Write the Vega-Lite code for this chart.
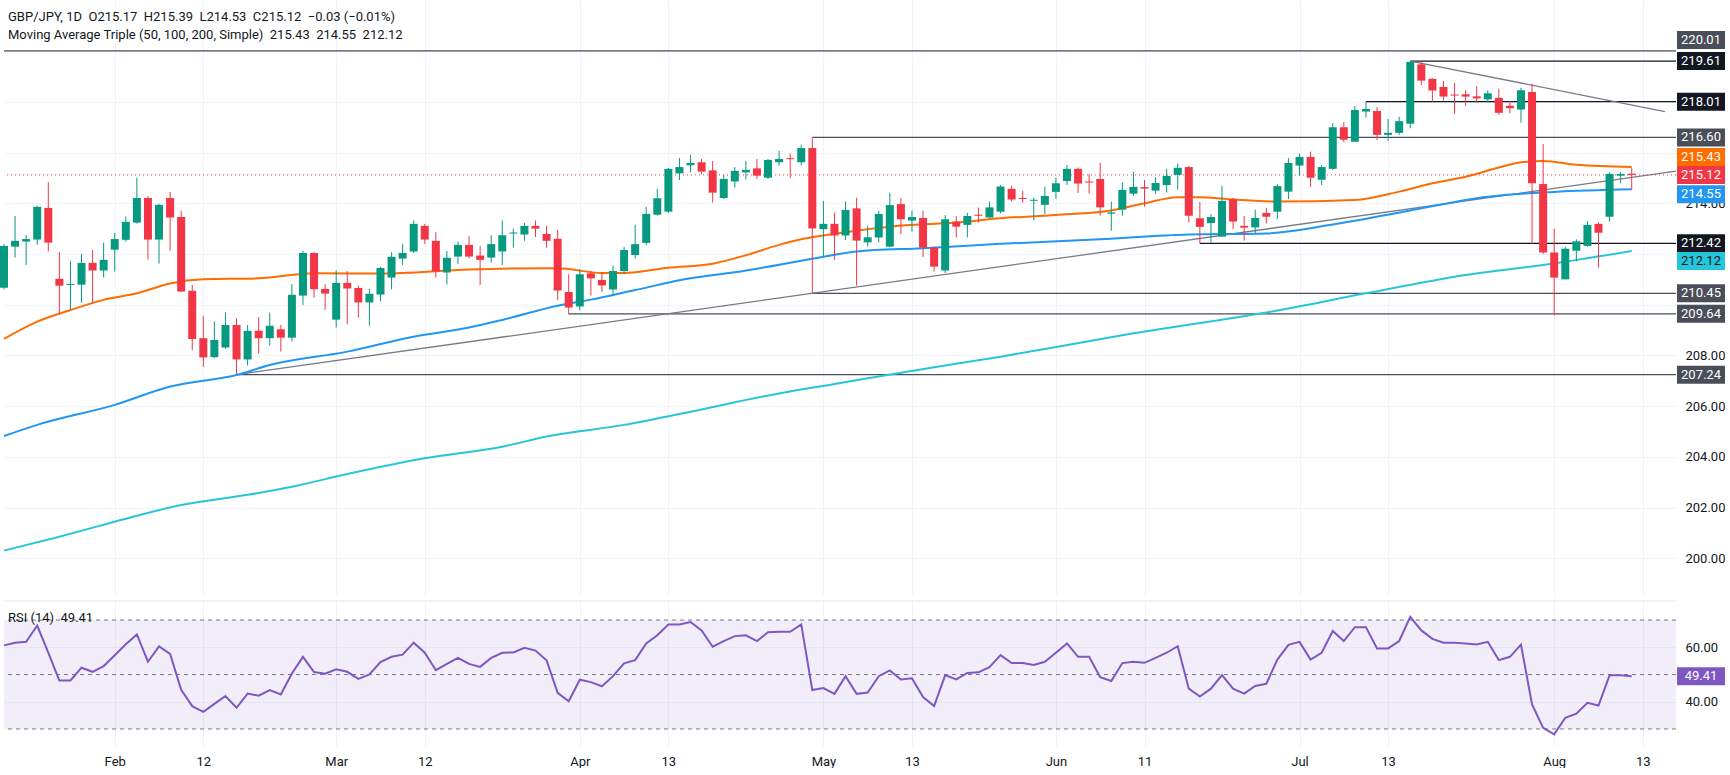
{
  "$schema": "https://vega.github.io/schema/vega-lite/v6.json",
  "description": "GBP/JPY daily candles with 50/100/200 SMA, drawn levels and trendlines, RSI(14) pane",
  "background": "#ffffff",
  "padding": 0,
  "spacing": 3,
  "config": {
    "view": {"stroke": null},
    "font": "Roboto",
    "axis": {"domain": false, "ticks": false, "gridColor": "#f0f3fa", "labelFont": "Roboto", "labelFontSize": 13, "labelColor": "#131722", "title": null},
    "title": {"font": "Roboto", "subtitleFont": "Roboto"}
  },
  "datasets": {
    "ohlc": [
      {"date": "2026-01-19", "open": 210.67, "high": 212.40, "low": 210.60, "close": 212.32, "rsi": 60.7},
      {"date": "2026-01-20", "open": 212.29, "high": 213.50, "low": 211.86, "close": 212.52, "rsi": 61.7},
      {"date": "2026-01-21", "open": 212.49, "high": 212.75, "low": 211.57, "close": 212.59, "rsi": 62.0},
      {"date": "2026-01-22", "open": 212.57, "high": 213.90, "low": 212.36, "close": 213.86, "rsi": 68.0},
      {"date": "2026-01-23", "open": 213.82, "high": 214.84, "low": 212.10, "close": 212.45, "rsi": 58.0},
      {"date": "2026-01-26", "open": 211.02, "high": 212.08, "low": 209.62, "close": 210.75, "rsi": 47.8},
      {"date": "2026-01-27", "open": 210.78, "high": 211.73, "low": 209.82, "close": 210.82, "rsi": 47.8},
      {"date": "2026-01-28", "open": 210.79, "high": 212.00, "low": 210.08, "close": 211.65, "rsi": 52.5},
      {"date": "2026-01-29", "open": 211.65, "high": 212.17, "low": 210.04, "close": 211.35, "rsi": 51.0},
      {"date": "2026-01-30", "open": 211.35, "high": 212.45, "low": 211.07, "close": 211.77, "rsi": 53.1},
      {"date": "2026-02-02", "open": 212.17, "high": 212.83, "low": 211.31, "close": 212.59, "rsi": 57.1},
      {"date": "2026-02-03", "open": 212.56, "high": 213.48, "low": 212.49, "close": 213.27, "rsi": 61.1},
      {"date": "2026-02-04", "open": 213.24, "high": 215.01, "low": 213.20, "close": 214.21, "rsi": 64.7},
      {"date": "2026-02-05", "open": 214.21, "high": 214.29, "low": 211.78, "close": 212.57, "rsi": 54.7},
      {"date": "2026-02-06", "open": 212.57, "high": 213.98, "low": 211.62, "close": 213.94, "rsi": 60.3},
      {"date": "2026-02-09", "open": 214.21, "high": 214.45, "low": 212.13, "close": 213.44, "rsi": 57.6},
      {"date": "2026-02-10", "open": 213.46, "high": 213.71, "low": 210.50, "close": 210.52, "rsi": 44.4},
      {"date": "2026-02-11", "open": 210.55, "high": 210.78, "low": 208.21, "close": 208.65, "rsi": 38.4},
      {"date": "2026-02-12", "open": 208.68, "high": 209.56, "low": 207.55, "close": 207.92, "rsi": 36.3},
      {"date": "2026-02-13", "open": 207.93, "high": 209.34, "low": 207.89, "close": 208.61, "rsi": 39.2},
      {"date": "2026-02-16", "open": 208.31, "high": 209.69, "low": 208.26, "close": 209.20, "rsi": 42.1},
      {"date": "2026-02-17", "open": 209.20, "high": 209.47, "low": 207.24, "close": 207.84, "rsi": 37.8},
      {"date": "2026-02-18", "open": 207.84, "high": 209.20, "low": 207.60, "close": 208.97, "rsi": 43.0},
      {"date": "2026-02-19", "open": 208.97, "high": 209.51, "low": 208.07, "close": 208.68, "rsi": 42.2},
      {"date": "2026-02-20", "open": 208.68, "high": 209.69, "low": 208.39, "close": 209.17, "rsi": 44.3},
      {"date": "2026-02-23", "open": 209.03, "high": 209.20, "low": 208.15, "close": 208.70, "rsi": 42.7},
      {"date": "2026-02-24", "open": 208.70, "high": 210.81, "low": 208.55, "close": 210.39, "rsi": 50.4},
      {"date": "2026-02-25", "open": 210.36, "high": 212.12, "low": 209.99, "close": 212.04, "rsi": 56.5},
      {"date": "2026-02-26", "open": 212.04, "high": 212.07, "low": 210.28, "close": 210.61, "rsi": 50.9},
      {"date": "2026-02-27", "open": 210.62, "high": 210.81, "low": 209.80, "close": 210.44, "rsi": 50.3},
      {"date": "2026-03-02", "open": 209.41, "high": 211.36, "low": 209.10, "close": 210.86, "rsi": 51.9},
      {"date": "2026-03-03", "open": 210.86, "high": 211.33, "low": 209.23, "close": 210.64, "rsi": 51.0},
      {"date": "2026-03-04", "open": 210.66, "high": 210.76, "low": 209.49, "close": 210.09, "rsi": 48.4},
      {"date": "2026-03-05", "open": 210.09, "high": 210.62, "low": 209.17, "close": 210.43, "rsi": 50.0},
      {"date": "2026-03-06", "open": 210.40, "high": 211.49, "low": 210.13, "close": 211.45, "rsi": 54.6},
      {"date": "2026-03-09", "open": 211.07, "high": 212.07, "low": 210.61, "close": 211.89, "rsi": 56.5},
      {"date": "2026-03-10", "open": 211.82, "high": 212.39, "low": 211.57, "close": 212.04, "rsi": 57.3},
      {"date": "2026-03-11", "open": 212.10, "high": 213.32, "low": 212.04, "close": 213.19, "rsi": 61.7},
      {"date": "2026-03-12", "open": 213.11, "high": 213.19, "low": 212.40, "close": 212.57, "rsi": 58.0},
      {"date": "2026-03-13", "open": 212.52, "high": 212.86, "low": 211.07, "close": 211.31, "rsi": 51.6},
      {"date": "2026-03-16", "open": 211.27, "high": 212.12, "low": 210.80, "close": 211.85, "rsi": 53.9},
      {"date": "2026-03-17", "open": 211.90, "high": 212.49, "low": 211.61, "close": 212.36, "rsi": 56.1},
      {"date": "2026-03-18", "open": 212.36, "high": 212.71, "low": 211.83, "close": 211.90, "rsi": 53.9},
      {"date": "2026-03-19", "open": 211.94, "high": 212.32, "low": 210.78, "close": 211.77, "rsi": 52.8},
      {"date": "2026-03-20", "open": 211.86, "high": 212.74, "low": 211.66, "close": 212.39, "rsi": 56.1},
      {"date": "2026-03-23", "open": 212.10, "high": 213.32, "low": 211.57, "close": 212.74, "rsi": 58.0},
      {"date": "2026-03-24", "open": 212.81, "high": 213.00, "low": 212.25, "close": 212.85, "rsi": 58.1},
      {"date": "2026-03-25", "open": 212.77, "high": 213.23, "low": 212.52, "close": 213.11, "rsi": 59.8},
      {"date": "2026-03-26", "open": 213.11, "high": 213.32, "low": 212.67, "close": 213.00, "rsi": 58.8},
      {"date": "2026-03-27", "open": 212.79, "high": 213.11, "low": 212.25, "close": 212.52, "rsi": 55.2},
      {"date": "2026-03-30", "open": 212.60, "high": 212.95, "low": 210.19, "close": 210.56, "rsi": 43.3},
      {"date": "2026-03-31", "open": 210.50, "high": 211.20, "low": 209.62, "close": 209.89, "rsi": 40.2},
      {"date": "2026-04-01", "open": 209.93, "high": 211.41, "low": 209.77, "close": 211.20, "rsi": 48.1},
      {"date": "2026-04-02", "open": 211.24, "high": 211.33, "low": 210.36, "close": 211.04, "rsi": 47.2},
      {"date": "2026-04-03", "open": 210.98, "high": 211.29, "low": 210.50, "close": 210.76, "rsi": 45.7},
      {"date": "2026-04-06", "open": 210.60, "high": 211.54, "low": 210.36, "close": 211.33, "rsi": 49.4},
      {"date": "2026-04-07", "open": 211.33, "high": 212.28, "low": 211.20, "close": 212.16, "rsi": 54.1},
      {"date": "2026-04-08", "open": 211.96, "high": 213.15, "low": 211.81, "close": 212.39, "rsi": 55.3},
      {"date": "2026-04-09", "open": 212.44, "high": 213.86, "low": 212.36, "close": 213.58, "rsi": 61.4},
      {"date": "2026-04-10", "open": 213.55, "high": 214.57, "low": 213.51, "close": 214.20, "rsi": 64.4},
      {"date": "2026-04-13", "open": 213.67, "high": 215.40, "low": 213.62, "close": 215.36, "rsi": 68.4},
      {"date": "2026-04-14", "open": 215.18, "high": 215.78, "low": 214.92, "close": 215.43, "rsi": 68.4},
      {"date": "2026-04-15", "open": 215.50, "high": 215.91, "low": 215.22, "close": 215.59, "rsi": 69.3},
      {"date": "2026-04-16", "open": 215.62, "high": 215.75, "low": 215.15, "close": 215.25, "rsi": 66.2},
      {"date": "2026-04-17", "open": 215.30, "high": 215.67, "low": 214.03, "close": 214.42, "rsi": 60.2},
      {"date": "2026-04-20", "open": 214.21, "high": 215.12, "low": 214.17, "close": 214.96, "rsi": 62.3},
      {"date": "2026-04-21", "open": 214.86, "high": 215.43, "low": 214.62, "close": 215.28, "rsi": 64.1},
      {"date": "2026-04-22", "open": 215.22, "high": 215.67, "low": 214.94, "close": 215.32, "rsi": 64.4},
      {"date": "2026-04-23", "open": 215.38, "high": 215.75, "low": 214.96, "close": 215.09, "rsi": 62.3},
      {"date": "2026-04-24", "open": 215.01, "high": 215.75, "low": 214.96, "close": 215.71, "rsi": 65.5},
      {"date": "2026-04-27", "open": 215.62, "high": 216.07, "low": 215.49, "close": 215.75, "rsi": 65.7},
      {"date": "2026-04-28", "open": 215.78, "high": 215.96, "low": 214.99, "close": 215.74, "rsi": 65.7},
      {"date": "2026-04-29", "open": 215.62, "high": 216.31, "low": 215.49, "close": 216.18, "rsi": 68.4},
      {"date": "2026-04-30", "open": 216.18, "high": 216.60, "low": 210.45, "close": 213.01, "rsi": 44.3},
      {"date": "2026-05-01", "open": 212.98, "high": 214.09, "low": 211.90, "close": 213.19, "rsi": 45.0},
      {"date": "2026-05-04", "open": 213.19, "high": 213.63, "low": 211.77, "close": 212.73, "rsi": 42.9},
      {"date": "2026-05-05", "open": 212.73, "high": 214.07, "low": 212.55, "close": 213.74, "rsi": 49.4},
      {"date": "2026-05-06", "open": 213.80, "high": 214.22, "low": 210.75, "close": 212.53, "rsi": 42.9},
      {"date": "2026-05-07", "open": 212.46, "high": 213.11, "low": 212.29, "close": 212.66, "rsi": 43.4},
      {"date": "2026-05-08", "open": 212.65, "high": 213.70, "low": 212.46, "close": 213.58, "rsi": 49.4},
      {"date": "2026-05-11", "open": 212.29, "high": 214.41, "low": 212.27, "close": 213.93, "rsi": 51.5},
      {"date": "2026-05-12", "open": 213.97, "high": 214.21, "low": 212.78, "close": 213.37, "rsi": 48.2},
      {"date": "2026-05-13", "open": 213.32, "high": 213.71, "low": 212.88, "close": 213.46, "rsi": 48.6},
      {"date": "2026-05-14", "open": 213.42, "high": 213.71, "low": 211.88, "close": 212.25, "rsi": 41.7},
      {"date": "2026-05-15", "open": 212.25, "high": 212.29, "low": 211.31, "close": 211.50, "rsi": 38.4},
      {"date": "2026-05-18", "open": 211.35, "high": 213.54, "low": 211.25, "close": 213.37, "rsi": 49.8},
      {"date": "2026-05-19", "open": 213.28, "high": 213.49, "low": 212.65, "close": 213.08, "rsi": 48.2},
      {"date": "2026-05-20", "open": 213.15, "high": 213.63, "low": 212.65, "close": 213.50, "rsi": 50.6},
      {"date": "2026-05-21", "open": 213.55, "high": 213.83, "low": 213.24, "close": 213.51, "rsi": 50.8},
      {"date": "2026-05-22", "open": 213.44, "high": 214.07, "low": 213.41, "close": 213.84, "rsi": 52.7},
      {"date": "2026-05-25", "open": 213.67, "high": 214.72, "low": 213.61, "close": 214.66, "rsi": 57.1},
      {"date": "2026-05-26", "open": 214.57, "high": 214.70, "low": 214.07, "close": 214.15, "rsi": 54.2},
      {"date": "2026-05-27", "open": 214.21, "high": 214.49, "low": 214.03, "close": 214.17, "rsi": 54.2},
      {"date": "2026-05-28", "open": 214.10, "high": 214.22, "low": 213.33, "close": 214.14, "rsi": 53.5},
      {"date": "2026-05-29", "open": 213.94, "high": 214.65, "low": 213.57, "close": 214.29, "rsi": 54.7},
      {"date": "2026-06-01", "open": 214.45, "high": 215.01, "low": 214.17, "close": 214.79, "rsi": 58.0},
      {"date": "2026-06-02", "open": 214.88, "high": 215.51, "low": 214.72, "close": 215.36, "rsi": 61.4},
      {"date": "2026-06-03", "open": 215.36, "high": 215.41, "low": 214.41, "close": 214.78, "rsi": 56.5},
      {"date": "2026-06-04", "open": 214.86, "high": 215.15, "low": 214.38, "close": 214.82, "rsi": 56.5},
      {"date": "2026-06-05", "open": 214.96, "high": 215.60, "low": 213.51, "close": 213.84, "rsi": 49.0},
      {"date": "2026-06-08", "open": 213.59, "high": 214.07, "low": 212.92, "close": 213.64, "rsi": 47.6},
      {"date": "2026-06-09", "open": 213.75, "high": 214.82, "low": 213.51, "close": 214.53, "rsi": 54.2},
      {"date": "2026-06-10", "open": 214.38, "high": 215.24, "low": 214.30, "close": 214.65, "rsi": 54.7},
      {"date": "2026-06-11", "open": 214.64, "high": 214.92, "low": 213.87, "close": 214.58, "rsi": 54.3},
      {"date": "2026-06-12", "open": 214.50, "high": 215.03, "low": 214.37, "close": 214.80, "rsi": 56.1},
      {"date": "2026-06-15", "open": 214.72, "high": 215.36, "low": 214.42, "close": 215.08, "rsi": 58.0},
      {"date": "2026-06-16", "open": 215.12, "high": 215.57, "low": 214.53, "close": 215.40, "rsi": 60.4},
      {"date": "2026-06-17", "open": 215.43, "high": 215.47, "low": 213.24, "close": 213.51, "rsi": 44.8},
      {"date": "2026-06-18", "open": 213.41, "high": 214.05, "low": 212.42, "close": 213.07, "rsi": 41.9},
      {"date": "2026-06-19", "open": 213.22, "high": 213.57, "low": 212.45, "close": 213.46, "rsi": 44.8},
      {"date": "2026-06-22", "open": 212.69, "high": 214.69, "low": 212.66, "close": 214.09, "rsi": 49.8},
      {"date": "2026-06-23", "open": 214.16, "high": 214.22, "low": 212.99, "close": 213.28, "rsi": 44.8},
      {"date": "2026-06-24", "open": 213.11, "high": 213.50, "low": 212.53, "close": 213.04, "rsi": 43.0},
      {"date": "2026-06-25", "open": 213.05, "high": 213.75, "low": 212.82, "close": 213.42, "rsi": 45.8},
      {"date": "2026-06-26", "open": 213.62, "high": 213.82, "low": 213.20, "close": 213.47, "rsi": 46.6},
      {"date": "2026-06-29", "open": 213.67, "high": 214.75, "low": 213.38, "close": 214.68, "rsi": 55.5},
      {"date": "2026-06-30", "open": 214.46, "high": 215.78, "low": 214.17, "close": 215.59, "rsi": 60.9},
      {"date": "2026-07-01", "open": 215.49, "high": 215.96, "low": 215.09, "close": 215.83, "rsi": 62.0},
      {"date": "2026-07-02", "open": 215.83, "high": 216.04, "low": 214.65, "close": 215.01, "rsi": 55.5},
      {"date": "2026-07-03", "open": 214.93, "high": 215.51, "low": 214.72, "close": 215.43, "rsi": 58.0},
      {"date": "2026-07-06", "open": 215.36, "high": 217.16, "low": 215.32, "close": 217.00, "rsi": 66.0},
      {"date": "2026-07-07", "open": 217.00, "high": 217.20, "low": 216.41, "close": 216.51, "rsi": 62.3},
      {"date": "2026-07-08", "open": 216.43, "high": 217.84, "low": 216.43, "close": 217.68, "rsi": 67.4},
      {"date": "2026-07-09", "open": 217.62, "high": 218.01, "low": 217.38, "close": 217.72, "rsi": 67.4},
      {"date": "2026-07-10", "open": 217.64, "high": 217.79, "low": 216.49, "close": 216.70, "rsi": 59.6},
      {"date": "2026-07-13", "open": 216.70, "high": 217.33, "low": 216.46, "close": 216.78, "rsi": 59.6},
      {"date": "2026-07-14", "open": 216.78, "high": 217.41, "low": 216.70, "close": 217.24, "rsi": 62.3},
      {"date": "2026-07-15", "open": 217.14, "high": 219.61, "low": 216.96, "close": 219.58, "rsi": 71.2},
      {"date": "2026-07-16", "open": 219.48, "high": 219.59, "low": 218.67, "close": 218.84, "rsi": 66.2},
      {"date": "2026-07-17", "open": 218.91, "high": 218.93, "low": 218.01, "close": 218.45, "rsi": 63.1},
      {"date": "2026-07-20", "open": 218.59, "high": 218.83, "low": 218.06, "close": 218.21, "rsi": 61.7},
      {"date": "2026-07-21", "open": 218.29, "high": 218.75, "low": 217.53, "close": 218.25, "rsi": 61.7},
      {"date": "2026-07-22", "open": 218.30, "high": 218.46, "low": 217.84, "close": 218.21, "rsi": 61.4},
      {"date": "2026-07-23", "open": 218.22, "high": 218.62, "low": 217.97, "close": 218.14, "rsi": 61.0},
      {"date": "2026-07-24", "open": 218.10, "high": 218.46, "low": 217.98, "close": 218.34, "rsi": 62.0},
      {"date": "2026-07-27", "open": 218.16, "high": 218.52, "low": 217.49, "close": 217.57, "rsi": 55.3},
      {"date": "2026-07-28", "open": 217.85, "high": 218.04, "low": 217.55, "close": 217.75, "rsi": 56.5},
      {"date": "2026-07-29", "open": 217.70, "high": 218.56, "low": 217.18, "close": 218.46, "rsi": 61.0},
      {"date": "2026-07-30", "open": 218.39, "high": 218.72, "low": 212.40, "close": 214.79, "rsi": 39.0},
      {"date": "2026-07-31", "open": 214.76, "high": 216.34, "low": 212.00, "close": 212.06, "rsi": 30.4},
      {"date": "2026-08-03", "open": 212.06, "high": 213.00, "low": 209.58, "close": 211.07, "rsi": 28.0},
      {"date": "2026-08-04", "open": 211.00, "high": 212.29, "low": 211.00, "close": 212.21, "rsi": 34.1},
      {"date": "2026-08-05", "open": 212.13, "high": 212.58, "low": 211.71, "close": 212.50, "rsi": 35.6},
      {"date": "2026-08-06", "open": 212.32, "high": 213.30, "low": 212.28, "close": 213.15, "rsi": 39.6},
      {"date": "2026-08-07", "open": 213.19, "high": 213.25, "low": 211.46, "close": 212.84, "rsi": 38.6},
      {"date": "2026-08-10", "open": 213.47, "high": 215.22, "low": 213.28, "close": 215.16, "rsi": 49.7},
      {"date": "2026-08-11", "open": 215.09, "high": 215.24, "low": 214.79, "close": 215.16, "rsi": 49.7},
      {"date": "2026-08-12", "open": 215.17, "high": 215.39, "low": 214.53, "close": 215.12, "rsi": 49.41}
    ],
    "sma": [
      {"date": "2026-01-19", "period": "50", "value": 208.65},
      {"date": "2026-01-22", "period": "50", "value": 209.33},
      {"date": "2026-01-27", "period": "50", "value": 209.79},
      {"date": "2026-01-30", "period": "50", "value": 210.19},
      {"date": "2026-02-04", "period": "50", "value": 210.45},
      {"date": "2026-02-09", "period": "50", "value": 210.84},
      {"date": "2026-02-12", "period": "50", "value": 211.00},
      {"date": "2026-02-19", "period": "50", "value": 211.04},
      {"date": "2026-02-26", "period": "50", "value": 211.24},
      {"date": "2026-03-06", "period": "50", "value": 211.23},
      {"date": "2026-03-18", "period": "50", "value": 211.39},
      {"date": "2026-03-30", "period": "50", "value": 211.44},
      {"date": "2026-04-03", "period": "50", "value": 211.25},
      {"date": "2026-04-07", "period": "50", "value": 211.25},
      {"date": "2026-04-13", "period": "50", "value": 211.46},
      {"date": "2026-04-17", "period": "50", "value": 211.62},
      {"date": "2026-04-22", "period": "50", "value": 211.95},
      {"date": "2026-04-27", "period": "50", "value": 212.36},
      {"date": "2026-04-29", "period": "50", "value": 212.58},
      {"date": "2026-05-01", "period": "50", "value": 212.73},
      {"date": "2026-05-11", "period": "50", "value": 213.08},
      {"date": "2026-05-19", "period": "50", "value": 213.24},
      {"date": "2026-05-25", "period": "50", "value": 213.41},
      {"date": "2026-06-01", "period": "50", "value": 213.54},
      {"date": "2026-06-08", "period": "50", "value": 213.72},
      {"date": "2026-06-11", "period": "50", "value": 214.00},
      {"date": "2026-06-16", "period": "50", "value": 214.24},
      {"date": "2026-06-18", "period": "50", "value": 214.24},
      {"date": "2026-06-23", "period": "50", "value": 214.15},
      {"date": "2026-06-29", "period": "50", "value": 214.07},
      {"date": "2026-07-08", "period": "50", "value": 214.13},
      {"date": "2026-07-14", "period": "50", "value": 214.46},
      {"date": "2026-07-17", "period": "50", "value": 214.79},
      {"date": "2026-07-22", "period": "50", "value": 215.05},
      {"date": "2026-07-27", "period": "50", "value": 215.41},
      {"date": "2026-07-29", "period": "50", "value": 215.62},
      {"date": "2026-07-31", "period": "50", "value": 215.67},
      {"date": "2026-08-05", "period": "50", "value": 215.52},
      {"date": "2026-08-12", "period": "50", "value": 215.43},
      {"date": "2026-01-19", "period": "100", "value": 204.82},
      {"date": "2026-01-22", "period": "100", "value": 205.26},
      {"date": "2026-02-02", "period": "100", "value": 206.05},
      {"date": "2026-02-09", "period": "100", "value": 206.77},
      {"date": "2026-02-17", "period": "100", "value": 207.23},
      {"date": "2026-02-20", "period": "100", "value": 207.62},
      {"date": "2026-03-03", "period": "100", "value": 208.15},
      {"date": "2026-03-11", "period": "100", "value": 208.74},
      {"date": "2026-03-18", "period": "100", "value": 209.10},
      {"date": "2026-03-23", "period": "100", "value": 209.40},
      {"date": "2026-03-30", "period": "100", "value": 209.96},
      {"date": "2026-04-02", "period": "100", "value": 210.20},
      {"date": "2026-04-08", "period": "100", "value": 210.58},
      {"date": "2026-04-15", "period": "100", "value": 211.04},
      {"date": "2026-04-21", "period": "100", "value": 211.28},
      {"date": "2026-04-30", "period": "100", "value": 211.81},
      {"date": "2026-05-06", "period": "100", "value": 212.10},
      {"date": "2026-05-14", "period": "100", "value": 212.23},
      {"date": "2026-05-25", "period": "100", "value": 212.40},
      {"date": "2026-06-05", "period": "100", "value": 212.58},
      {"date": "2026-06-17", "period": "100", "value": 212.77},
      {"date": "2026-06-26", "period": "100", "value": 212.81},
      {"date": "2026-07-06", "period": "100", "value": 213.16},
      {"date": "2026-07-15", "period": "100", "value": 213.72},
      {"date": "2026-07-24", "period": "100", "value": 214.26},
      {"date": "2026-08-03", "period": "100", "value": 214.45},
      {"date": "2026-08-12", "period": "100", "value": 214.55},
      {"date": "2026-01-19", "period": "200", "value": 200.30},
      {"date": "2026-01-26", "period": "200", "value": 200.85},
      {"date": "2026-02-02", "period": "200", "value": 201.44},
      {"date": "2026-02-10", "period": "200", "value": 202.10},
      {"date": "2026-02-18", "period": "200", "value": 202.50},
      {"date": "2026-02-24", "period": "200", "value": 202.82},
      {"date": "2026-03-03", "period": "200", "value": 203.32},
      {"date": "2026-03-12", "period": "200", "value": 203.94},
      {"date": "2026-03-23", "period": "200", "value": 204.40},
      {"date": "2026-03-27", "period": "200", "value": 204.80},
      {"date": "2026-04-07", "period": "200", "value": 205.26},
      {"date": "2026-04-15", "period": "200", "value": 205.78},
      {"date": "2026-04-27", "period": "200", "value": 206.50},
      {"date": "2026-05-04", "period": "200", "value": 206.87},
      {"date": "2026-05-12", "period": "200", "value": 207.32},
      {"date": "2026-05-25", "period": "200", "value": 207.95},
      {"date": "2026-06-10", "period": "200", "value": 208.87},
      {"date": "2026-06-29", "period": "200", "value": 209.77},
      {"date": "2026-07-09", "period": "200", "value": 210.45},
      {"date": "2026-07-22", "period": "200", "value": 211.17},
      {"date": "2026-08-03", "period": "200", "value": 211.63},
      {"date": "2026-08-12", "period": "200", "value": 212.12}
    ],
    "lines": [
      {"from": "2026-01-19", "to": "2026-08-18", "p1": 220.01, "p2": 220.01, "kind": "level"},
      {"from": "2026-07-15", "to": "2026-08-18", "p1": 219.61, "p2": 219.61, "kind": "swing"},
      {"from": "2026-07-09", "to": "2026-08-18", "p1": 218.01, "p2": 218.01, "kind": "swing"},
      {"from": "2026-04-30", "to": "2026-08-18", "p1": 216.60, "p2": 216.60, "kind": "level"},
      {"from": "2026-06-18", "to": "2026-08-18", "p1": 212.42, "p2": 212.42, "kind": "swing"},
      {"from": "2026-04-30", "to": "2026-08-18", "p1": 210.45, "p2": 210.45, "kind": "level"},
      {"from": "2026-03-31", "to": "2026-08-18", "p1": 209.64, "p2": 209.64, "kind": "level"},
      {"from": "2026-02-17", "to": "2026-08-18", "p1": 207.24, "p2": 207.24, "kind": "level"},
      {"from": "2026-02-17", "to": "2026-08-18", "p1": 207.24, "p2": 215.27, "kind": "trend"},
      {"from": "2026-07-15", "to": "2026-08-17", "p1": 219.61, "p2": 217.62, "kind": "trend"}
    ],
    "tags": [
      {"value": 220.01, "kind": "level"},
      {"value": 219.61, "kind": "swing"},
      {"value": 218.01, "kind": "swing"},
      {"value": 216.60, "kind": "level"},
      {"value": 215.43, "kind": "ma50"},
      {"value": 215.12, "kind": "last"},
      {"value": 214.55, "kind": "ma100"},
      {"value": 212.42, "kind": "swing"},
      {"value": 212.12, "kind": "ma200"},
      {"value": 210.45, "kind": "level"},
      {"value": 209.64, "kind": "level"},
      {"value": 207.24, "kind": "level"}
    ],
    "rsiLevels": [{"level": 70}, {"level": 50}, {"level": 30}],
    "rsiBand": [{"lo": 30, "hi": 70}],
    "paneTop": [{"rsi": 77.0}]
  },
  "vconcat": [
    {
      "width": 1672,
      "height": 597,
      "title": {
        "text": "GBP/JPY, 1D\u00a0\u00a0O215.17\u00a0\u00a0H215.39\u00a0\u00a0L214.53\u00a0\u00a0C215.12\u00a0\u00a0−0.03 (−0.01%)",
        "subtitle": "Moving Average Triple (50, 100, 200, Simple)\u00a0\u00a0215.43\u00a0\u00a0214.55\u00a0\u00a0212.12",
        "anchor": "start",
        "offset": -42,
        "dx": 8,
        "fontSize": 13,
        "fontWeight": "normal",
        "color": "#131722",
        "subtitleFontSize": 13,
        "subtitleColor": "#131722",
        "subtitlePadding": 5
      },
      "layer": [
        {
          "data": {"name": "lines"},
          "mark": {"type": "rule", "strokeWidth": 1.3},
          "encoding": {
            "x": {"field": "from", "type": "ordinal"},
            "x2": {"field": "to"},
            "y": {"field": "p1", "type": "quantitative"},
            "y2": {"field": "p2"},
            "color": {
              "condition": [
                {"test": "datum.kind == 'trend'", "value": "#787b86"},
                {"test": "datum.kind == 'swing'", "value": "#131722"}
              ],
              "value": "#4a4e59"
            }
          }
        },
        {
          "data": {"name": "sma"},
          "mark": {"type": "line", "strokeWidth": 2, "interpolate": "monotone"},
          "encoding": {
            "x": {"field": "date", "type": "ordinal"},
            "y": {"field": "value", "type": "quantitative"},
            "color": {
              "field": "period",
              "type": "nominal",
              "scale": {"domain": ["50", "100", "200"], "range": ["#ff6d00", "#2196f3", "#26c6da"]},
              "legend": null
            }
          }
        },
        {
          "data": {"name": "tags"},
          "transform": [{"filter": "datum.kind == 'last'"}],
          "mark": {"type": "rule", "color": "#f23645", "strokeWidth": 1, "strokeDash": [1, 3]},
          "encoding": {"y": {"field": "value", "type": "quantitative"}}
        },
        {
          "data": {"name": "ohlc"},
          "mark": {"type": "rule", "strokeWidth": 1},
          "encoding": {
            "x": {
              "field": "date",
              "type": "ordinal",
              "scale": {
                "type": "point",
                "padding": 0,
                "domain": ["2026-01-19","2026-01-20","2026-01-21","2026-01-22","2026-01-23","2026-01-26","2026-01-27","2026-01-28","2026-01-29","2026-01-30","2026-02-02","2026-02-03","2026-02-04","2026-02-05","2026-02-06","2026-02-09","2026-02-10","2026-02-11","2026-02-12","2026-02-13","2026-02-16","2026-02-17","2026-02-18","2026-02-19","2026-02-20","2026-02-23","2026-02-24","2026-02-25","2026-02-26","2026-02-27","2026-03-02","2026-03-03","2026-03-04","2026-03-05","2026-03-06","2026-03-09","2026-03-10","2026-03-11","2026-03-12","2026-03-13","2026-03-16","2026-03-17","2026-03-18","2026-03-19","2026-03-20","2026-03-23","2026-03-24","2026-03-25","2026-03-26","2026-03-27","2026-03-30","2026-03-31","2026-04-01","2026-04-02","2026-04-03","2026-04-06","2026-04-07","2026-04-08","2026-04-09","2026-04-10","2026-04-13","2026-04-14","2026-04-15","2026-04-16","2026-04-17","2026-04-20","2026-04-21","2026-04-22","2026-04-23","2026-04-24","2026-04-27","2026-04-28","2026-04-29","2026-04-30","2026-05-01","2026-05-04","2026-05-05","2026-05-06","2026-05-07","2026-05-08","2026-05-11","2026-05-12","2026-05-13","2026-05-14","2026-05-15","2026-05-18","2026-05-19","2026-05-20","2026-05-21","2026-05-22","2026-05-25","2026-05-26","2026-05-27","2026-05-28","2026-05-29","2026-06-01","2026-06-02","2026-06-03","2026-06-04","2026-06-05","2026-06-08","2026-06-09","2026-06-10","2026-06-11","2026-06-12","2026-06-15","2026-06-16","2026-06-17","2026-06-18","2026-06-19","2026-06-22","2026-06-23","2026-06-24","2026-06-25","2026-06-26","2026-06-29","2026-06-30","2026-07-01","2026-07-02","2026-07-03","2026-07-06","2026-07-07","2026-07-08","2026-07-09","2026-07-10","2026-07-13","2026-07-14","2026-07-15","2026-07-16","2026-07-17","2026-07-20","2026-07-21","2026-07-22","2026-07-23","2026-07-24","2026-07-27","2026-07-28","2026-07-29","2026-07-30","2026-07-31","2026-08-03","2026-08-04","2026-08-05","2026-08-06","2026-08-07","2026-08-10","2026-08-11","2026-08-12","2026-08-13","2026-08-14","2026-08-17","2026-08-18"]
              },
              "axis": {
                "labels": false,
                "grid": true,
                "values": ["2026-02-02","2026-02-12","2026-03-02","2026-03-12","2026-04-01","2026-04-13","2026-05-01","2026-05-13","2026-06-01","2026-06-11","2026-07-01","2026-07-13","2026-08-03","2026-08-13"]
              }
            },
            "y": {
              "field": "low",
              "type": "quantitative",
              "scale": {"domain": [198.47, 222.02], "nice": false, "zero": false},
              "axis": {
                "orient": "right",
                "grid": true,
                "labelPadding": 9,
                "values": [200, 202, 204, 206, 208, 210, 212, 214, 216, 218, 220],
                "labelExpr": "indexof([200, 202, 204, 206, 208, 214], datum.value) >= 0 ? format(datum.value, '.2f') : ''"
              }
            },
            "y2": {"field": "high"},
            "color": {"condition": {"test": "datum.close >= datum.open", "value": "#089981"}, "value": "#f23645"}
          }
        },
        {
          "data": {"name": "ohlc"},
          "mark": {"type": "bar", "width": 8},
          "encoding": {
            "x": {"field": "date", "type": "ordinal"},
            "y": {"field": "open", "type": "quantitative"},
            "y2": {"field": "close"},
            "color": {"condition": {"test": "datum.close >= datum.open", "value": "#089981"}, "value": "#f23645"}
          }
        },
        {
          "data": {"name": "tags"},
          "mark": {
            "type": "point",
            "shape": "M-1,-0.375H1V0.375H-1Z",
            "size": 2304,
            "filled": true,
            "opacity": 1,
            "strokeWidth": 0,
            "x": "width",
            "xOffset": 25,
            "yOffset": {"expr": "datum.kind == 'ma50' ? -10 : datum.kind == 'ma100' ? 5 : datum.kind == 'ma200' ? 10 : datum.value > 220 ? -11 : 0"}
          },
          "encoding": {
            "y": {"field": "value", "type": "quantitative"},
            "color": {
              "condition": [
                {"test": "datum.kind == 'ma50'", "value": "#ff6d00"},
                {"test": "datum.kind == 'ma100'", "value": "#2196f3"},
                {"test": "datum.kind == 'ma200'", "value": "#26c6da"},
                {"test": "datum.kind == 'last'", "value": "#f23645"},
                {"test": "datum.kind == 'swing'", "value": "#131722"}
              ],
              "value": "#4a4e59"
            }
          }
        },
        {
          "data": {"name": "tags"},
          "mark": {
            "type": "text",
            "x": "width",
            "xOffset": 25,
            "align": "center",
            "baseline": "middle",
            "fontSize": 13,
            "yOffset": {"expr": "datum.kind == 'ma50' ? -10 : datum.kind == 'ma100' ? 5 : datum.kind == 'ma200' ? 10 : datum.value > 220 ? -11 : 0"}
          },
          "encoding": {
            "y": {"field": "value", "type": "quantitative"},
            "text": {"field": "value", "type": "quantitative", "format": ".2f"},
            "color": {"condition": {"test": "datum.kind == 'ma200'", "value": "#131722"}, "value": "#ffffff"}
          }
        }
      ]
    },
    {
      "width": 1672,
      "height": 145,
      "title": {
        "text": "RSI (14)\u00a0\u00a049.41",
        "anchor": "start",
        "offset": -24,
        "dx": 8,
        "fontSize": 13,
        "fontWeight": "normal",
        "color": "#131722"
      },
      "layer": [
        {
          "data": {"name": "rsiBand"},
          "mark": {"type": "rect", "color": "#7e57c2", "opacity": 0.1},
          "encoding": {
            "y": {"field": "lo", "type": "quantitative"},
            "y2": {"field": "hi"}
          }
        },
        {
          "data": {"name": "paneTop"},
          "mark": {"type": "rule", "color": "#e0e3eb", "strokeWidth": 1},
          "encoding": {"y": {"field": "rsi", "type": "quantitative"}}
        },
        {
          "data": {"name": "rsiLevels"},
          "mark": {"type": "rule", "color": "#787b86", "strokeWidth": 1, "strokeDash": [4, 4]},
          "encoding": {"y": {"field": "level", "type": "quantitative"}}
        },
        {
          "data": {"name": "ohlc"},
          "mark": {"type": "line", "color": "#7e57c2", "strokeWidth": 2},
          "encoding": {
            "x": {
              "field": "date",
              "type": "ordinal",
              "scale": {
                "type": "point",
                "padding": 0,
                "domain": ["2026-01-19","2026-01-20","2026-01-21","2026-01-22","2026-01-23","2026-01-26","2026-01-27","2026-01-28","2026-01-29","2026-01-30","2026-02-02","2026-02-03","2026-02-04","2026-02-05","2026-02-06","2026-02-09","2026-02-10","2026-02-11","2026-02-12","2026-02-13","2026-02-16","2026-02-17","2026-02-18","2026-02-19","2026-02-20","2026-02-23","2026-02-24","2026-02-25","2026-02-26","2026-02-27","2026-03-02","2026-03-03","2026-03-04","2026-03-05","2026-03-06","2026-03-09","2026-03-10","2026-03-11","2026-03-12","2026-03-13","2026-03-16","2026-03-17","2026-03-18","2026-03-19","2026-03-20","2026-03-23","2026-03-24","2026-03-25","2026-03-26","2026-03-27","2026-03-30","2026-03-31","2026-04-01","2026-04-02","2026-04-03","2026-04-06","2026-04-07","2026-04-08","2026-04-09","2026-04-10","2026-04-13","2026-04-14","2026-04-15","2026-04-16","2026-04-17","2026-04-20","2026-04-21","2026-04-22","2026-04-23","2026-04-24","2026-04-27","2026-04-28","2026-04-29","2026-04-30","2026-05-01","2026-05-04","2026-05-05","2026-05-06","2026-05-07","2026-05-08","2026-05-11","2026-05-12","2026-05-13","2026-05-14","2026-05-15","2026-05-18","2026-05-19","2026-05-20","2026-05-21","2026-05-22","2026-05-25","2026-05-26","2026-05-27","2026-05-28","2026-05-29","2026-06-01","2026-06-02","2026-06-03","2026-06-04","2026-06-05","2026-06-08","2026-06-09","2026-06-10","2026-06-11","2026-06-12","2026-06-15","2026-06-16","2026-06-17","2026-06-18","2026-06-19","2026-06-22","2026-06-23","2026-06-24","2026-06-25","2026-06-26","2026-06-29","2026-06-30","2026-07-01","2026-07-02","2026-07-03","2026-07-06","2026-07-07","2026-07-08","2026-07-09","2026-07-10","2026-07-13","2026-07-14","2026-07-15","2026-07-16","2026-07-17","2026-07-20","2026-07-21","2026-07-22","2026-07-23","2026-07-24","2026-07-27","2026-07-28","2026-07-29","2026-07-30","2026-07-31","2026-08-03","2026-08-04","2026-08-05","2026-08-06","2026-08-07","2026-08-10","2026-08-11","2026-08-12","2026-08-13","2026-08-14","2026-08-17","2026-08-18"]
              },
              "axis": {
                "grid": true,
                "labelPadding": 9,
                "labelAngle": 0,
                "values": ["2026-02-02","2026-02-12","2026-03-02","2026-03-12","2026-04-01","2026-04-13","2026-05-01","2026-05-13","2026-06-01","2026-06-11","2026-07-01","2026-07-13","2026-08-03","2026-08-13"],
                "labelExpr": "utcdate(toDate(datum.value)) < 5 ? utcFormat(toDate(datum.value), '%b') : '' + utcdate(toDate(datum.value))"
              }
            },
            "y": {
              "field": "rsi",
              "type": "quantitative",
              "scale": {"domain": [23.75, 77.0], "nice": false, "zero": false},
              "axis": {"orient": "right", "grid": true, "labelPadding": 9, "values": [40, 60], "format": ".2f"}
            }
          }
        },
        {
          "data": {"name": "ohlc"},
          "transform": [{"filter": "datum.date == '2026-08-12'"}],
          "mark": {"type": "point", "shape": "M-1,-0.375H1V0.375H-1Z", "size": 2304, "filled": true, "opacity": 1, "strokeWidth": 0, "x": "width", "xOffset": 25, "color": "#7e57c2"},
          "encoding": {"y": {"field": "rsi", "type": "quantitative"}}
        },
        {
          "data": {"name": "ohlc"},
          "transform": [{"filter": "datum.date == '2026-08-12'"}],
          "mark": {"type": "text", "x": "width", "xOffset": 25, "align": "center", "baseline": "middle", "fontSize": 13, "color": "#ffffff"},
          "encoding": {
            "y": {"field": "rsi", "type": "quantitative"},
            "text": {"field": "rsi", "type": "quantitative", "format": ".2f"}
          }
        }
      ]
    }
  ]
}
